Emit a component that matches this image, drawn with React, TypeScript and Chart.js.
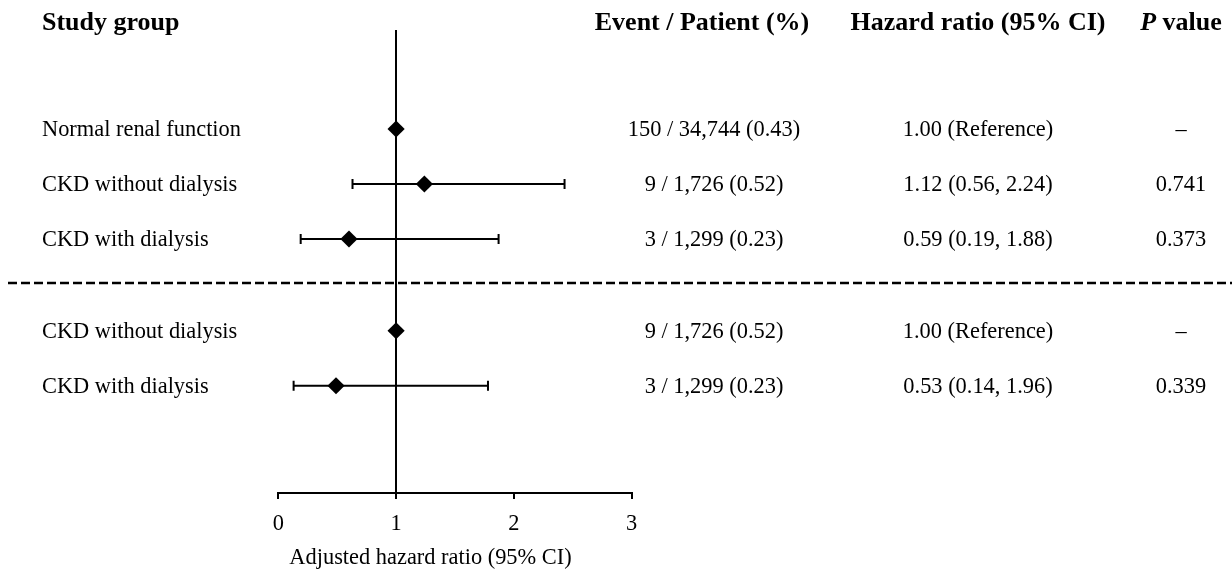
import React, { useEffect, useRef } from 'react';
import { Chart, registerables } from 'chart.js';

Chart.register(...registerables);

// ---------- data ----------
const groupLabels = [
  'Normal renal function',
  'CKD without dialysis',
  'CKD with dialysis',
  'CKD without dialysis',
  'CKD with dialysis',
];
const comparisonSet = [0, 0, 0, 1, 1];
const hazardRatios = [1.0, 1.24, 0.6, 1.0, 0.49];
const ciLower: (number | null)[] = [null, 0.63, 0.19, null, 0.13];
const ciUpper: (number | null)[] = [null, 2.43, 1.87, null, 1.78];
const eventPatient = [
  '150 / 34,744 (0.43)',
  '9 / 1,726 (0.52)',
  '3 / 1,299 (0.23)',
  '9 / 1,726 (0.52)',
  '3 / 1,299 (0.23)',
];
const hrCi = [
  '1.00 (Reference)',
  '1.12 (0.56, 2.24)',
  '0.59 (0.19, 1.88)',
  '1.00 (Reference)',
  '0.53 (0.14, 1.96)',
];
const pValues = ['\u2013', '0.741', '0.373', '\u2013', '0.339'];
const xTickValues = [0, 1, 2, 3];
const referenceValue = 1;
const headerGroup = 'Study group';
const headerEvents = 'Event / Patient (%)';
const headerHr = 'Hazard ratio (95% CI)';
const headerPItalic = 'P';
const headerPRest = ' value';
const axisTitle = 'Adjusted hazard ratio (95% CI)';

// ---------- layout ----------
const W = 1232;
const H = 573;
const SERIF = '"Liberation Serif", "Times New Roman", serif';
const BODY = 22.4;
const HEAD = 26;
const COL_LABEL_X = 42;
const COL_EVENT_HEAD_X = 702;
const COL_EVENT_X = 714;
const COL_HR_X = 978;
const COL_P_X = 1181;
const HEADER_BASELINE = 30;
const GROUP_GAP = 0.668;

const rowY = comparisonSet.map((g, i) => i + g * GROUP_GAP);

const forestPlugin = {
  id: 'forestTable',
  beforeDatasetsDraw(chart: any) {
    const { ctx, scales } = chart;
    const x = scales.x;
    const y = scales.y;
    ctx.save();
    ctx.strokeStyle = '#000';
    ctx.lineWidth = 2;
    rowY.forEach((ry, i) => {
      const lo = ciLower[i];
      const hi = ciUpper[i];
      if (lo == null || hi == null) return;
      const py = y.getPixelForValue(ry);
      const x1 = x.getPixelForValue(lo);
      const x2 = x.getPixelForValue(hi);
      ctx.beginPath();
      ctx.moveTo(x1, py);
      ctx.lineTo(x2, py);
      ctx.moveTo(x1, py - 5);
      ctx.lineTo(x1, py + 5);
      ctx.moveTo(x2, py - 5);
      ctx.lineTo(x2, py + 5);
      ctx.stroke();
    });
    ctx.restore();
  },
  afterDraw(chart: any) {
    const { ctx, scales } = chart;
    const y = scales.y;
    ctx.save();
    ctx.fillStyle = '#000';

    // headers
    ctx.textBaseline = 'alphabetic';
    ctx.font = `bold ${HEAD}px ${SERIF}`;
    ctx.textAlign = 'left';
    ctx.fillText(headerGroup, COL_LABEL_X, HEADER_BASELINE);
    ctx.textAlign = 'center';
    ctx.fillText(headerEvents, COL_EVENT_HEAD_X, HEADER_BASELINE);
    ctx.fillText(headerHr, COL_HR_X, HEADER_BASELINE);
    ctx.font = `italic bold ${HEAD}px ${SERIF}`;
    const wP = ctx.measureText(headerPItalic).width;
    ctx.font = `bold ${HEAD}px ${SERIF}`;
    const wRest = ctx.measureText(headerPRest).width;
    const startP = COL_P_X - (wP + wRest) / 2;
    ctx.textAlign = 'left';
    ctx.font = `italic bold ${HEAD}px ${SERIF}`;
    ctx.fillText(headerPItalic, startP, HEADER_BASELINE);
    ctx.font = `bold ${HEAD}px ${SERIF}`;
    ctx.fillText(headerPRest, startP + wP, HEADER_BASELINE);

    // rows
    ctx.font = `${BODY}px ${SERIF}`;
    ctx.textBaseline = 'middle';
    rowY.forEach((ry, i) => {
      const py = y.getPixelForValue(ry) + 1.5;
      ctx.textAlign = 'left';
      ctx.fillText(groupLabels[i], COL_LABEL_X, py);
      ctx.textAlign = 'center';
      ctx.fillText(eventPatient[i], COL_EVENT_X, py);
      ctx.fillText(hrCi[i], COL_HR_X, py);
      ctx.fillText(pValues[i], COL_P_X, py);
    });

    // dashed separator between comparison sets
    for (let i = 1; i < rowY.length; i++) {
      if (comparisonSet[i] !== comparisonSet[i - 1]) {
        const sy = (y.getPixelForValue(rowY[i - 1]) + y.getPixelForValue(rowY[i])) / 2 - 2;
        ctx.beginPath();
        ctx.setLineDash([9, 4]);
        ctx.lineWidth = 2.5;
        ctx.strokeStyle = '#000';
        ctx.moveTo(8, sy);
        ctx.lineTo(W, sy);
        ctx.stroke();
        ctx.setLineDash([]);
      }
    }

    // axis title
    ctx.font = `${BODY}px ${SERIF}`;
    ctx.textAlign = 'center';
    ctx.textBaseline = 'middle';
    ctx.fillText(axisTitle, 430.5, 558.5);
    ctx.restore();
  },
};

export default function App() {
  const ref = useRef<HTMLCanvasElement>(null);
  useEffect(() => {
    if (!ref.current) return;
    const points = hazardRatios.map((v, i) => ({ x: v, y: rowY[i] }));
    const chart = new Chart(ref.current, {
      type: 'scatter',
      data: {
        datasets: [
          {
            data: points,
            pointStyle: 'rectRot',
            pointRadius: 8.6,
            pointHoverRadius: 8.6,
            backgroundColor: '#000',
            borderColor: '#000',
            borderWidth: 0,
          },
        ],
      },
      options: {
        responsive: false,
        animation: false,
        events: [],
        layout: { padding: { left: 278.3, right: W - 631.7, top: 30, bottom: 0 } },
        plugins: {
          legend: { display: false },
          tooltip: { enabled: false },
          title: { display: false },
        },
        scales: {
          x: {
            type: 'linear',
            min: xTickValues[0],
            max: xTickValues[xTickValues.length - 1],
            afterBuildTicks: (s: any) => {
              s.ticks = xTickValues.map((v) => ({ value: v }));
            },
            afterFit: (s: any) => {
              s.height = 80;
            },
            ticks: {
              color: '#000',
              font: { family: SERIF, size: BODY },
              padding: 11.5,
              maxRotation: 0,
            },
            grid: {
              color: (c: any) =>
                c.tick && c.tick.value === referenceValue ? '#000' : 'rgba(0,0,0,0)',
              lineWidth: 2,
              tickColor: '#000',
              tickLength: 6,
              tickWidth: 2,
              drawOnChartArea: true,
              drawTicks: true,
            },
            border: { display: true, color: '#000', width: 2 },
          },
          y: {
            type: 'linear',
            display: false,
            reverse: true,
            min: -1.8,
            max: 6.618,
          },
        },
      },
      plugins: [forestPlugin],
    } as any);
    return () => chart.destroy();
  }, []);
  return (
    <div style={{ position: 'absolute', left: 0, top: 0, width: W, height: H, background: '#fff' }}>
      <canvas ref={ref} width={W} height={H} style={{ display: 'block', width: W, height: H }} />
    </div>
  );
}
